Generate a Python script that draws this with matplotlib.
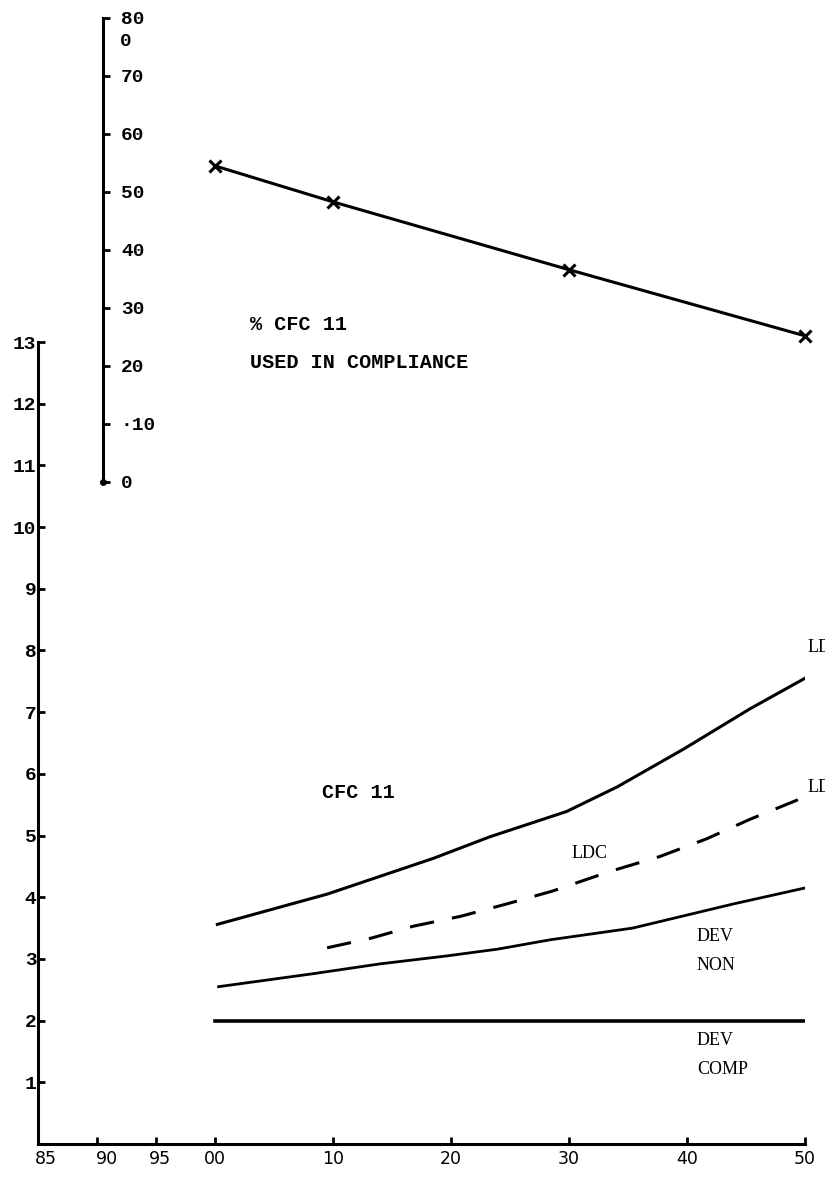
# CFC 11 use projection chart (scanned report figure)
import matplotlib
matplotlib.use('Agg')
import matplotlib.pyplot as plt

# ----- DATA -----------------------------------------------------------------
years_upper = [2000.2, 2009.5, 2014.0, 2018.5, 2023.3, 2029.8, 2034.1, 2039.7, 2045.3, 2050.0]
cfc_upper = [3.56, 4.05, 4.34, 4.63, 4.98, 5.39, 5.79, 6.40, 7.05, 7.55]

years_ldc = [2009.5, 2013.3, 2016.8, 2020.8, 2024.7, 2028.6, 2033.5, 2037.7, 2041.7, 2045.3, 2049.4]
cfc_ldc = [3.18, 3.34, 3.53, 3.69, 3.89, 4.10, 4.42, 4.66, 4.95, 5.26, 5.58]

years_lower = [2000.3, 2008.3, 2014.0, 2019.7, 2024.0, 2028.4, 2035.4, 2043.9, 2050.0]
cfc_lower = [2.55, 2.76, 2.92, 3.05, 3.16, 3.31, 3.50, 3.89, 4.15]

years_dev = [2000, 2050]
cfc_dev = [2.0, 2.0]

years_pct = [2000, 2010, 2030, 2050]
pct_compliance = [54.5, 48.3, 36.6, 25.2]

x_ticks = [1985, 1990, 1995, 2000, 2010, 2020, 2030, 2040, 2050]
x_labels = ['85', '90', '95', '00', '10', '20', '30', '40', '50']
y_ticks = list(range(1, 14))
pct_ticks = [0, 10, 20, 30, 40, 50, 60, 70, 80]
pct_labels = ['0', '\u00b710', '20', '30', '40', '50', '60', '70', '80']

# ----- LAYOUT (pixel helpers) -------------------------------------------------
W, H = 825, 1183
def fx(px): return px / W
def fy(py): return 1 - py / H

fig = plt.figure(figsize=(8.25, 11.83), dpi=100)
mono = 'Liberation Mono'
serif = 'Liberation Serif'

# main axes
ax = fig.add_axes([fx(38), fy(1144), fx(805) - fx(38), fy(342) - fy(1144)])
ax.set_xlim(1985, 2050)
ax.set_ylim(0, 13)
for s in ['top', 'right']:
    ax.spines[s].set_visible(False)
for s in ['left', 'bottom']:
    ax.spines[s].set_linewidth(2.2)
ax.set_xticks(x_ticks)
ax.set_xticklabels(x_labels, fontsize=12.5, family='DejaVu Sans')
ax.set_yticks(y_ticks)
ax.set_yticklabels([str(v) for v in y_ticks], fontsize=14, family=mono, weight='bold')
ax.tick_params(axis='both', direction='in', length=5, width=2, pad=4)
ax.tick_params(axis='y', pad=1)
# early-year labels sit a little right of their ticks in the original
for lab, dx in zip(ax.get_xticklabels()[:3], [8, 10, 4]):
    lab.set_x(lab.get_position()[0])
    lab.set_transform(lab.get_transform() + matplotlib.transforms.ScaledTranslation(dx / 100, 0, fig.dpi_scale_trans))

ax.plot(years_upper, cfc_upper, color='black', lw=2.2)
ax.plot(years_ldc, cfc_ldc, color='black', lw=2.2, linestyle=(0, (8, 6)))
ax.plot(years_lower, cfc_lower, color='black', lw=2.0)
ax.plot(years_dev, cfc_dev, color='black', lw=2.6)

# labels in main panel
fig.text(fx(358), fy(793), 'CFC 11', family=mono, weight='bold', fontsize=14.5,
         ha='center', va='center')
fig.text(fx(590), fy(853), 'LDC', family=serif, fontsize=13, ha='center', va='center')
fig.text(fx(808), fy(648), 'LDC', family=serif, fontsize=13, ha='left', va='center')
fig.text(fx(808), fy(787), 'LDC', family=serif, fontsize=13, ha='left', va='center')
fig.text(fx(697), fy(951), 'DEV\nNON', family=serif, fontsize=13, ha='left', va='center',
         linespacing=1.9)
fig.text(fx(697), fy(1055), 'DEV\nCOMP', family=serif, fontsize=13, ha='left', va='center',
         linespacing=1.9)

# inset: % CFC 11 used in compliance
ax2 = fig.add_axes([fx(38), fy(482), fx(805) - fx(38), fy(18) - fy(482)])
ax2.patch.set_visible(False)
ax2.set_xlim(1985, 2050)
ax2.set_ylim(0, 80)
for s in ['top', 'left', 'bottom']:
    ax2.spines[s].set_visible(False)
ax2.spines['right'].set_position(('data', 1990.5))
ax2.spines['right'].set_linewidth(2.2)
ax2.spines['right'].set_bounds(0, 80)
ax2.yaxis.tick_right()
ax2.set_xticks([])
ax2.set_yticks(pct_ticks)
ax2.set_yticklabels(pct_labels, fontsize=14, family=mono, weight='bold')
ax2.tick_params(axis='y', direction='out', length=5, width=2, pad=8)
ax2.plot(years_pct, pct_compliance, color='black', lw=2.2, marker='x', ms=9, mew=2.2,
         clip_on=False)
ax2.plot([1990.5], [0], marker='o', color='black', ms=4, clip_on=False)

fig.text(fx(120), fy(42), '0', family=mono, weight='bold', fontsize=14, ha='left', va='center')
fig.text(fx(250), fy(325), '% CFC 11', family=mono, weight='bold', fontsize=14.5,
         ha='left', va='center')
fig.text(fx(250), fy(363), 'USED IN COMPLIANCE', family=mono, weight='bold', fontsize=14.5,
         ha='left', va='center')

fig.savefig('out.png', dpi=100)
